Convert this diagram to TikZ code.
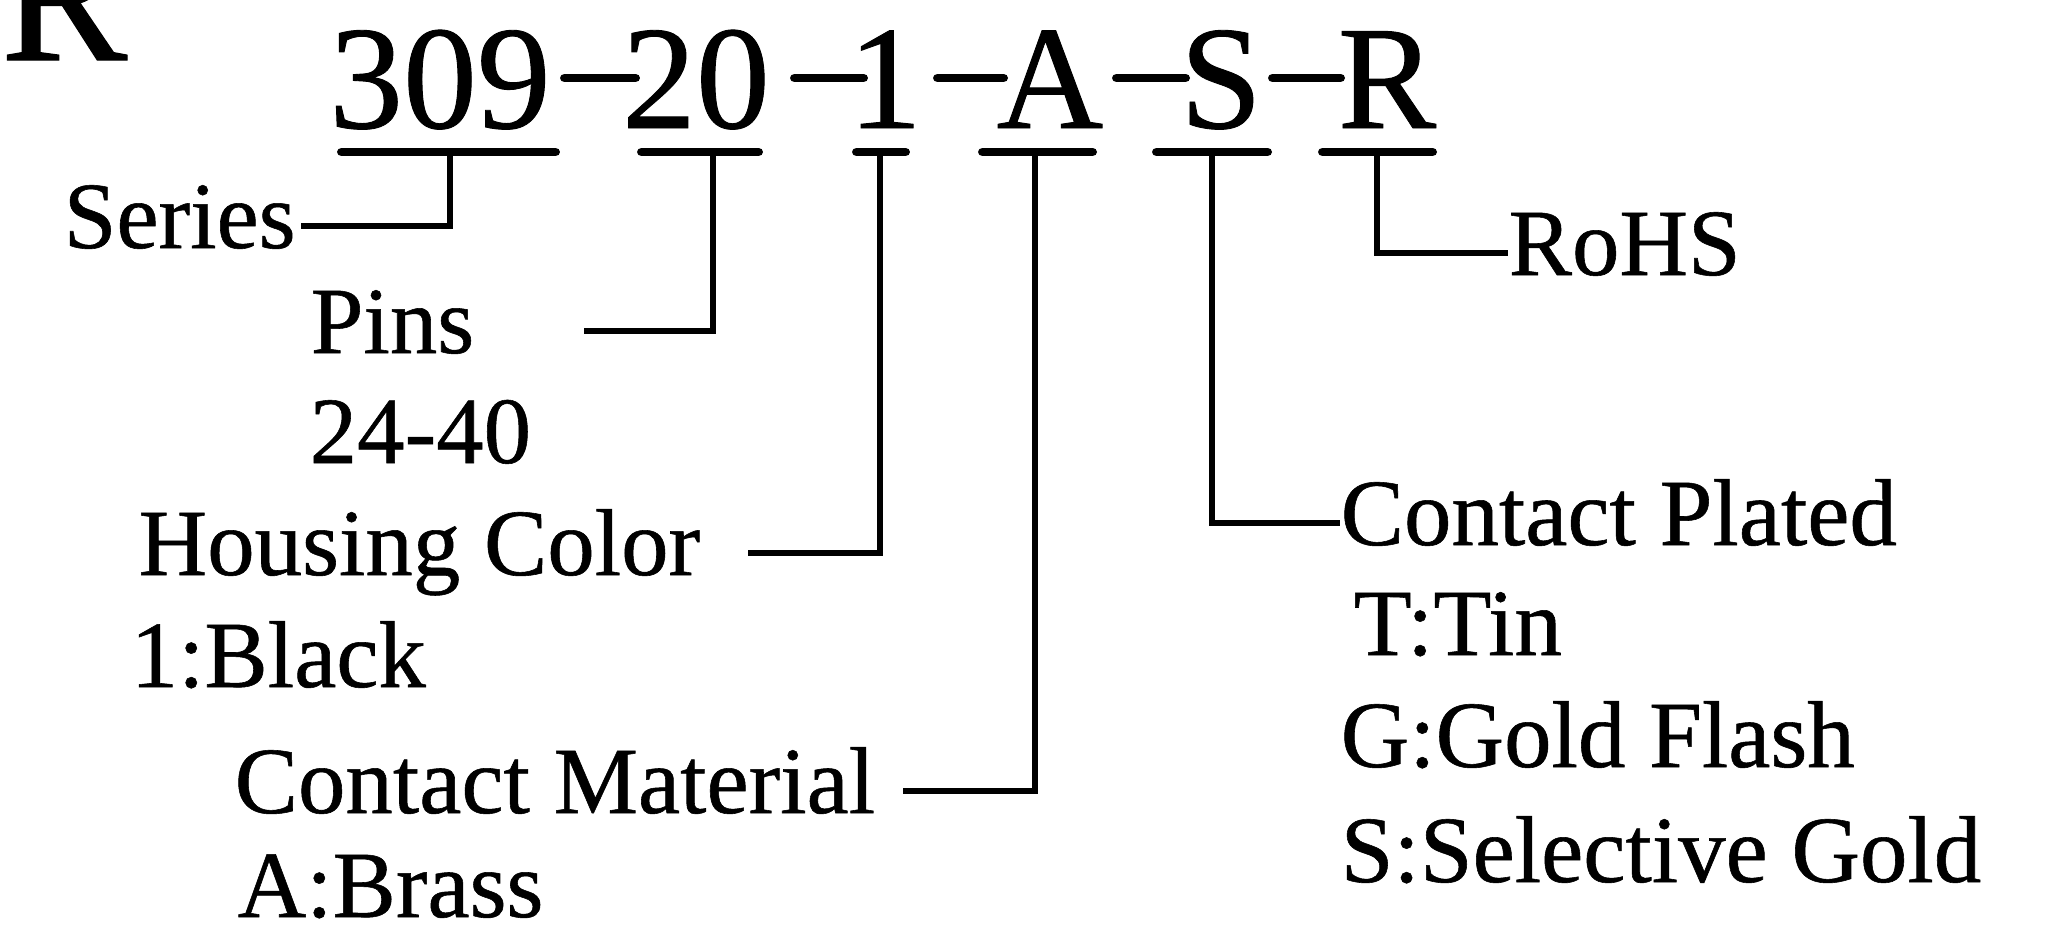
\documentclass[tikz,border=0pt]{standalone}
\usepackage{fontspec}
\setmainfont{Liberation Serif}[FakeBold=0.6]
\usetikzlibrary{calc}

\begin{document}
\begin{tikzpicture}[
  headletter/.style={anchor=base west,inner sep=0pt,font=\fontsize{54}{60}\selectfont},
  codepart/.style={anchor=base,inner sep=0pt,font=\fontsize{42}{48}\selectfont},
  desc/.style={anchor=base west,inner sep=0pt,text height=18.4pt,text depth=5.9pt,
               font=\fontsize{27}{32}\selectfont},
  bar/.style={line width=2.55pt,line cap=round},
  lead/.style={line width=1.9pt}
]

\useasboundingbox (0,0) rectangle (20.45,-9.38);
\clip (0,0) rectangle (20.45,-9.38);

% Part number
\node[headletter] (head) at (0,-0.60) {R};
\node[codepart] (p309) at (4.40,-1.28) {309};
\node[codepart] (p20)  at (6.96,-1.28) {20};
\node[codepart] (p1)   at (8.85,-1.28) {1};
\node[codepart] (pA)   at (10.50,-1.28) {A};
\node[codepart] (pS)   at (12.21,-1.28) {S};
\node[codepart] (pR)   at (13.87,-1.28) {R};

% Dashes and underlines
\foreach \a/\b in {5.645/6.355, 7.945/8.635, 9.375/10.035, 11.165/11.855, 12.725/13.405}
  \draw[bar] (\a,-0.78) -- (\b,-0.78);
\foreach \a/\b in {3.415/5.555, 6.415/7.585, 8.565/9.055, 9.825/10.925, 11.565/12.675, 13.225/14.325}
  \draw[bar] (\a,-1.52) -- (\b,-1.52);

\coordinate (t309) at (4.50,-1.52);
\coordinate (t20)  at (7.13,-1.52);
\coordinate (t1)   at (8.80,-1.52);
\coordinate (tA)   at (10.35,-1.52);
\coordinate (tS)   at (12.12,-1.52);
\coordinate (tR)   at (13.77,-1.52);

% Left-hand fields
\node[desc] (series) at (0.63,-2.48) {Series};
\node[desc] (pins) at (3.10,-3.53) {Pins};
\node[desc] (pinsval) at (3.09,-4.63) {24-40};
\node[desc] (housing) at (1.38,-5.75) {Housing Color};
\node[desc] (housingval) at (1.30,-6.87) {1:Black};
\node[desc] (material) at (2.34,-8.13) {Contact Material};
\node[desc] (materialval) at (2.37,-9.17) {A:Brass};

% Right-hand fields
\node[desc] (plated) at (13.40,-5.45) {Contact Plated};
\node[desc] (tin) at (13.53,-6.55) {T:Tin};
\node[desc] (flash) at (13.40,-7.67) {G:Gold Flash};
\node[desc] (selective) at (13.40,-8.82) {S:Selective Gold};
\node[desc] (rohs) at (15.08,-2.75) {RoHS};

% Leads
\draw[lead] (t309) |- ([xshift=0.05cm]series.east);
\draw[lead] (t20) |- ([xshift=1.09cm]pins.east);
\draw[lead] (t1) |- ([xshift=0.47cm]housing.east);
\draw[lead] (tA) |- ([xshift=0.27cm]material.east);
\draw[lead] (tS) |- (plated.west);
\draw[lead] (tR) |- (rohs.west);

\end{tikzpicture}
\end{document}
